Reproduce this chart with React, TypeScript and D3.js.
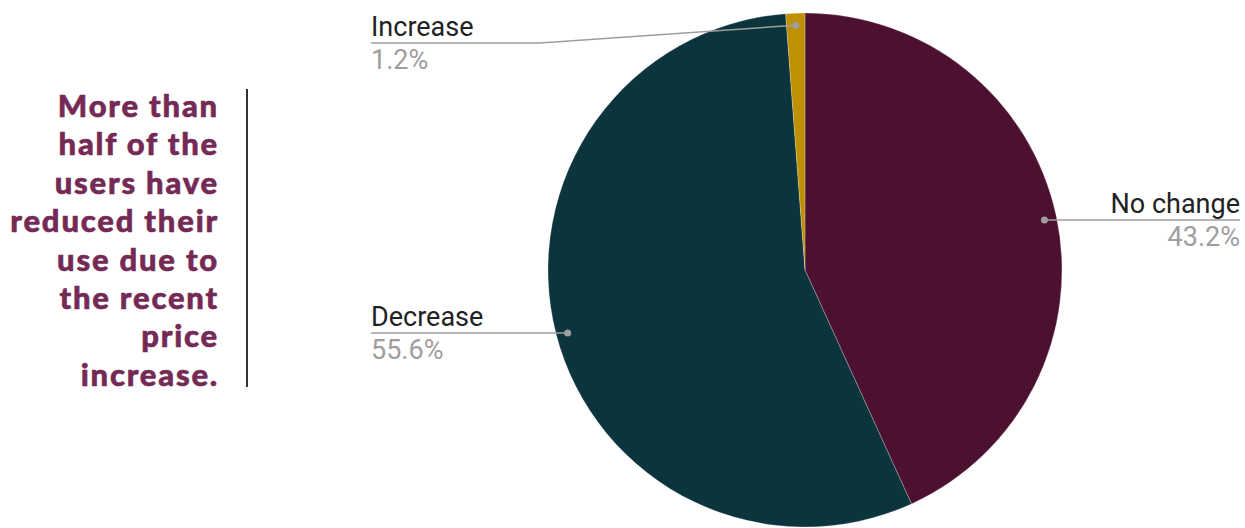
import React from "react";
import * as d3 from "d3";

const categories = ["No change", "Decrease", "Increase"];
const values = [43.2, 55.6, 1.2];
const colors = ["#4c1130", "#0c343d", "#bf9000"];
const titleLines = [
  "More than",
  "half of the",
  "users have",
  "reduced their",
  "use due to",
  "the recent",
  "price",
  "increase.",
];

const W = 1245;
const H = 528;
const cx = 805;
const cy = 270;
const R = 257;

const labelLayout: Record<string, { side: "left" | "right"; x: number; lineY: number; elbowX?: number }> = {
  "No change": { side: "right", x: 1240, lineY: 220 },
  Decrease: { side: "left", x: 371, lineY: 333 },
  Increase: { side: "left", x: 371, lineY: 43, elbowX: 540 },
};

export default function App() {
  const data = categories.map((c, i) => ({ name: c, value: values[i], color: colors[i] }));
  const pie = d3.pie<any>().sort(null).value((d) => d.value);
  const arcs = pie(data);
  const arc = d3.arc<any>().innerRadius(0).outerRadius(R);
  const dotArc = d3.arc<any>().innerRadius(245).outerRadius(245);

  return (
    <div>
      <style>{`body{margin:0}`}</style>
      <svg width={W} height={H} style={{ display: "block" }}>
        <g>
          {titleLines.map((t, i) => (
            <text
              key={i}
              x={219}
              y={117 + i * 38.4}
              textAnchor="end"
              fontFamily="Lato, 'Open Sans', sans-serif"
              fontWeight={900}
              fontSize={31}
              letterSpacing={1.8}
              stroke="#742a55"
              strokeWidth={0.6}
              fill="#742a55"
            >
              {t}
            </text>
          ))}
          <line x1={247} x2={247} y1={89} y2={387} stroke="#333" strokeWidth={2} />
        </g>
        <g transform={`translate(${cx},${cy})`}>
          {arcs.map((a, i) => (
            <path key={i} d={arc(a) as string} fill={a.data.color} stroke="#ffffff" strokeWidth={0.4} strokeOpacity={0.6} />
          ))}
        </g>
        {arcs.map((a, i) => {
          const [dx, dy] = dotArc.centroid(a);
          const px = cx + dx;
          const py = cy + dy;
          const L = labelLayout[a.data.name];
          const pts: [number, number][] = [];
          if (L.side === "right") {
            pts.push([px, L.lineY], [L.x, L.lineY]);
          } else if (L.elbowX !== undefined) {
            pts.push([px, py], [L.elbowX, L.lineY], [L.x, L.lineY]);
          } else {
            pts.push([px, L.lineY], [L.x, L.lineY]);
          }
          const line = d3.line();
          const anchor = L.side === "right" ? "end" : "start";
          const dotY = L.elbowX !== undefined ? py : L.lineY;
          return (
            <g key={i}>
              <path d={line(pts) as string} fill="none" stroke="#9e9e9e" strokeWidth={1.5} />
              <circle cx={px} cy={dotY} r={3.5} fill="#9e9e9e" />
              <text
                x={L.x}
                y={L.lineY - 7}
                textAnchor={anchor}
                fontFamily="Roboto, sans-serif"
                fontSize={27}
                fill="#222222"
              >
                {a.data.name}
              </text>
              <text
                x={L.x}
                y={L.lineY + 26}
                textAnchor={anchor}
                fontFamily="Roboto, sans-serif"
                fontSize={27}
                fill="#9e9e9e"
              >
                {a.data.value.toFixed(1) + "%"}
              </text>
            </g>
          );
        })}
      </svg>
    </div>
  );
}
